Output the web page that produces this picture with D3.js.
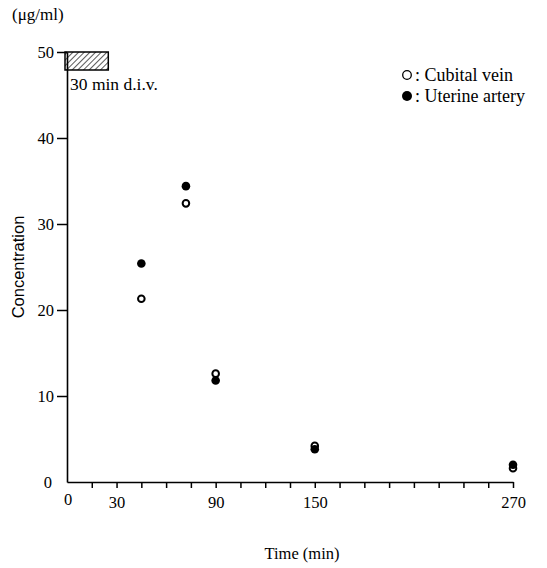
<!DOCTYPE html>
<html>
<head>
<meta charset="utf-8">
<script src="https://cdn.jsdelivr.net/npm/d3@7"></script>
<style>
  body { margin: 0; background: #fff; }
  svg text { fill: #000; }
</style>
</head>
<body>
<div id="chart"></div>
<script>
// data
var times      = [45, 72, 90, 150, 270];
var cubital    = [21.3, 32.4, 12.6, 4.2, 1.6];   // open circles
var uterine    = [25.4, 34.4, 11.8, 3.8, 2.0];   // filled circles
var xTickMinor = d3.range(15, 271, 15);
var xTickLabels = [0, 30, 90, 150, 270];
var yTicks     = [0, 10, 20, 30, 40, 50];
var infusion   = [0, 25];   // hatched bar along the top

var svgWidth = 547, svgHeight = 568;
var serif = "'Liberation Serif', 'Times New Roman', serif";

var svg = d3.select("#chart")
    .append("svg")
        .attr("width", svgWidth)
        .attr("height", svgHeight);

var x = d3.scaleLinear().domain([0, 270]).range([67, 513]);
var y = d3.scaleLinear().domain([0, 50]).range([482, 52]);

// hatch pattern
var defs = svg.append("defs");
var pat = defs.append("pattern")
    .attr("id", "hatch")
    .attr("patternUnits", "userSpaceOnUse")
    .attr("width", 4).attr("height", 4)
    .attr("patternTransform", "rotate(45)");
pat.append("line")
    .attr("x1", 0).attr("y1", 0).attr("x2", 0).attr("y2", 4)
    .attr("stroke", "#000").attr("stroke-width", 1.3);

// X axis
var xAxis = d3.axisBottom(x)
    .tickValues(xTickMinor)
    .tickSize(6)
    .tickSizeOuter(0)
    .tickFormat(function(d) { return xTickLabels.indexOf(d) >= 0 ? d : ""; })
    .tickPadding(8);
var gx = svg.append("g")
    .attr("transform", "translate(0," + y(0) + ")")
    .call(xAxis);
gx.select(".domain").attr("stroke-width", 1.6);
gx.selectAll(".tick line").attr("stroke-width", 1.5);
gx.selectAll(".tick text")
    .attr("font-family", serif).attr("font-size", 16.5);
gx.append("text")
    .attr("x", x(0) + 1).attr("y", 23)
    .attr("text-anchor", "middle")
    .attr("font-family", serif).attr("font-size", 16.5)
    .text("0");

// Y axis
var yAxis = d3.axisLeft(y)
    .tickValues(yTicks)
    .tickSize(10)
    .tickSizeOuter(0)
    .tickPadding(3);
var gy = svg.append("g")
    .attr("transform", "translate(" + x(0) + ",0)")
    .call(yAxis);
gy.select(".domain").attr("stroke-width", 1.6);
gy.selectAll(".tick line").attr("stroke-width", 1.5)
    .attr("display", function(d) { return d === 0 ? "none" : null; });
gy.selectAll(".tick text")
    .attr("font-family", serif).attr("font-size", 16.5)
    .attr("dx", function(d) { return d === 0 ? -2 : 0; });

// infusion bar
svg.append("rect")
    .attr("x", x(infusion[0]) - 2)
    .attr("y", y(50))
    .attr("width", x(infusion[1]) - x(infusion[0]) + 2)
    .attr("height", 18)
    .attr("fill", "url(#hatch)")
    .attr("stroke", "#000")
    .attr("stroke-width", 1.5);
svg.append("text")
    .attr("x", 70).attr("y", 90)
    .attr("font-family", serif).attr("font-size", 17.5)
    .text("30 min d.i.v.");

// unit + axis titles
svg.append("text")
    .attr("x", 12).attr("y", 20)
    .attr("font-family", serif).attr("font-size", 17)
    .text("(\u03bcg/ml)");
svg.append("text")
    .attr("transform", "translate(24,267) rotate(-90)")
    .attr("text-anchor", "middle")
    .attr("font-family", "'Liberation Sans', Arial, sans-serif").attr("font-size", 16.5)
    .text("Concentration");
svg.append("text")
    .attr("x", 302).attr("y", 559)
    .attr("text-anchor", "middle")
    .attr("font-family", serif).attr("font-size", 16.5)
    .text("Time (min)");

// points
var pts = times.map(function(t, i) { return { t: t, c: cubital[i], u: uterine[i] }; });
svg.selectAll(".open")
    .data(pts).enter().append("circle")
        .attr("class", "open")
        .attr("cx", function(d) { return x(d.t); })
        .attr("cy", function(d) { return y(d.c); })
        .attr("r", 3.3)
        .attr("fill", "#fff")
        .attr("stroke", "#000")
        .attr("stroke-width", 2);
svg.selectAll(".filled")
    .data(pts).enter().append("circle")
        .attr("class", "filled")
        .attr("cx", function(d) { return x(d.t); })
        .attr("cy", function(d) { return y(d.u); })
        .attr("r", 4.3)
        .attr("fill", "#000");

// legend
var legend = [
    { label: ": Cubital vein", filled: false },
    { label: ": Uterine artery", filled: true }
];
var lg = svg.append("g").selectAll("g")
    .data(legend).enter().append("g")
        .attr("transform", function(d, i) { return "translate(407," + (75 + i * 21) + ")"; });
lg.append("circle")
    .attr("r", function(d) { return d.filled ? 5 : 4.3; })
    .attr("fill", function(d) { return d.filled ? "#000" : "#fff"; })
    .attr("stroke", "#000")
    .attr("stroke-width", function(d) { return d.filled ? 0 : 1.3; });
lg.append("text")
    .attr("x", 8).attr("y", 5.5)
    .attr("font-family", serif).attr("font-size", 18)
    .text(function(d) { return d.label; });
</script>
</body>
</html>
